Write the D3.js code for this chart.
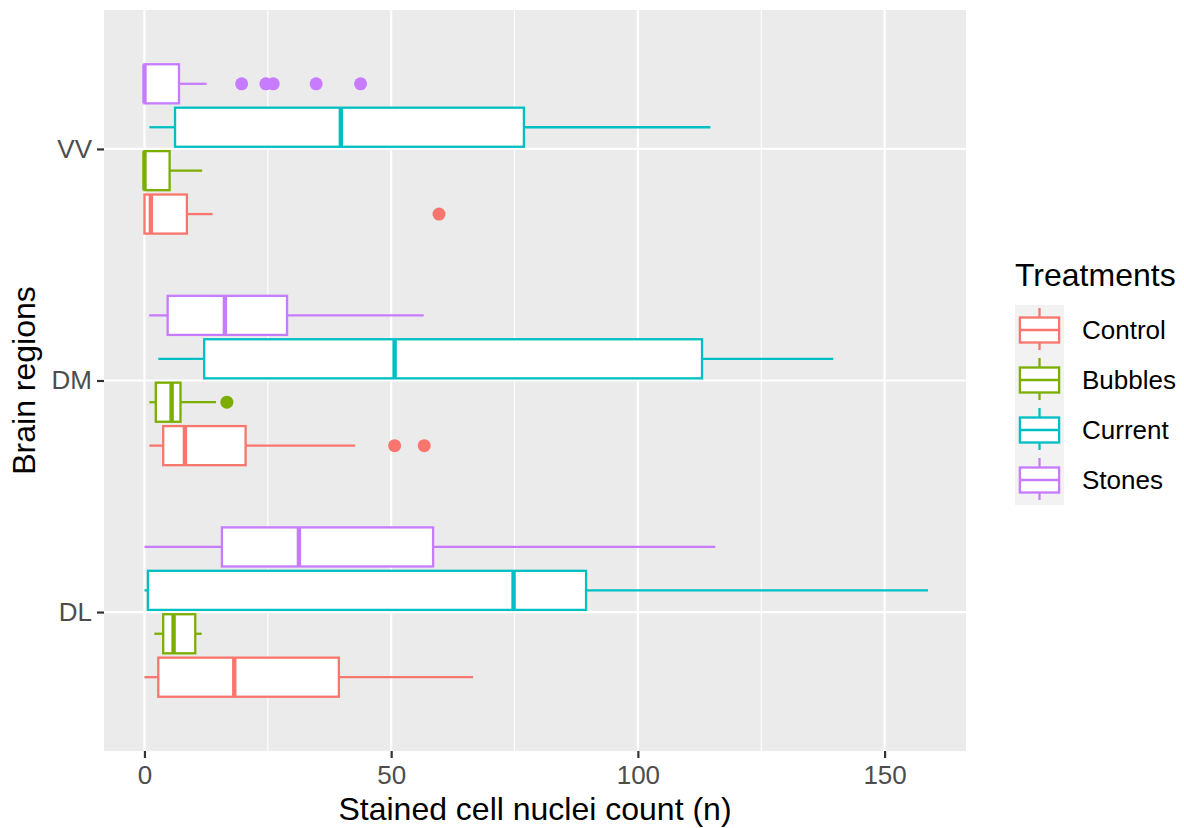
<!DOCTYPE html>
<html>
<head>
<meta charset="utf-8">
<script src="https://cdn.jsdelivr.net/npm/d3@7"></script>
<style>
  body { margin: 0; background: #fff; }
  svg { font-family: "Liberation Sans", Arial, sans-serif; }
</style>
</head>
<body>
<svg id="chart" width="1184" height="828"></svg>
<script>
var regions = ["DL", "DM", "VV"];
var treatments = ["Control", "Bubbles", "Current", "Stones"];
var colors = ["#F8766D", "#7CAE00", "#00BFC4", "#C77CFF"];
var xTicks = [0, 50, 100, 150];
var xMinor = [25, 75, 125];

// one row per region (DL, DM, VV), values in treatment order
var whiskerLow  = [[0, 2.0, 0, 0], [1.0, 1.0, 2.8, 0.95], [0, 0, 1.0, 0]];
var q1          = [[2.8, 3.8, 0.7, 15.7], [3.8, 2.3, 12.1, 4.7], [0, 0, 6.2, 0]];
var median      = [[18.2, 5.9, 74.8, 31.3], [8.2, 5.5, 50.7, 16.3], [1.3, 0, 39.8, 0]];
var q3          = [[39.4, 10.3, 89.5, 58.5], [20.5, 7.3, 113.0, 28.9], [8.6, 5.1, 76.9, 7.0]];
var whiskerHigh = [[66.6, 11.6, 158.8, 115.7], [42.7, 14.5, 139.6, 56.6], [13.8, 11.7, 114.7, 12.6]];

var outlierRegion    = ["DM", "DM", "DM", "VV", "VV", "VV", "VV", "VV", "VV"];
var outlierTreatment = ["Control", "Control", "Bubbles", "Control", "Stones", "Stones", "Stones", "Stones", "Stones"];
var outlierValue     = [50.7, 56.7, 16.7, 59.7, 19.7, 24.6, 26.1, 34.8, 43.8];

var panel = {left: 104, right: 966, top: 10, bottom: 751};
var svg = d3.select("#chart");

var x = d3.scaleLinear().domain([-8.2, 166.5]).range([panel.left, panel.right]);
var y = d3.scaleLinear().domain([0.4, 3.6]).range([panel.bottom, panel.top]);
var color = d3.scaleOrdinal().domain(treatments).range(colors);

var slot = 0.75 / treatments.length;
function boxCenter(r, t) {
    return regions.indexOf(r) + 1 + (treatments.indexOf(t) - 1.5) * slot;
}
var halfBox = (y(0) - y(slot * 0.9)) / 2;
var lw = 2.3;

// panel background and grid
svg.append("rect")
    .attr("x", panel.left).attr("y", panel.top)
    .attr("width", panel.right - panel.left).attr("height", panel.bottom - panel.top)
    .attr("fill", "#EBEBEB");

svg.selectAll(".minor").data(xMinor).enter().append("line")
    .attr("x1", function(d) { return x(d); }).attr("x2", function(d) { return x(d); })
    .attr("y1", panel.top).attr("y2", panel.bottom)
    .attr("stroke", "#fff").attr("stroke-width", 1.1);

svg.selectAll(".majorx").data(xTicks).enter().append("line")
    .attr("x1", function(d) { return x(d); }).attr("x2", function(d) { return x(d); })
    .attr("y1", panel.top).attr("y2", panel.bottom)
    .attr("stroke", "#fff").attr("stroke-width", 2.2);

svg.selectAll(".majory").data(regions).enter().append("line")
    .attr("x1", panel.left).attr("x2", panel.right)
    .attr("y1", function(d, i) { return y(i + 1); }).attr("y2", function(d, i) { return y(i + 1); })
    .attr("stroke", "#fff").attr("stroke-width", 2.2);

// boxes
var boxes = [];
regions.forEach(function(r, i) {
    treatments.forEach(function(t, j) {
        boxes.push({region: r, treatment: t, lo: whiskerLow[i][j], q1: q1[i][j],
            med: median[i][j], q3: q3[i][j], hi: whiskerHigh[i][j]});
    });
});

var g = svg.append("g");
var box = g.selectAll(".box").data(boxes).enter().append("g");

box.append("line")
    .attr("x1", function(d) { return x(d.lo); }).attr("x2", function(d) { return x(d.q1); })
    .attr("y1", function(d) { return y(boxCenter(d.region, d.treatment)); })
    .attr("y2", function(d) { return y(boxCenter(d.region, d.treatment)); })
    .attr("stroke", function(d) { return color(d.treatment); }).attr("stroke-width", lw);

box.append("line")
    .attr("x1", function(d) { return x(d.q3); }).attr("x2", function(d) { return x(d.hi); })
    .attr("y1", function(d) { return y(boxCenter(d.region, d.treatment)); })
    .attr("y2", function(d) { return y(boxCenter(d.region, d.treatment)); })
    .attr("stroke", function(d) { return color(d.treatment); }).attr("stroke-width", lw);

box.append("rect")
    .attr("x", function(d) { return x(d.q1); })
    .attr("width", function(d) { return x(d.q3) - x(d.q1); })
    .attr("y", function(d) { return y(boxCenter(d.region, d.treatment)) - halfBox; })
    .attr("height", halfBox * 2)
    .attr("fill", "#fff")
    .attr("stroke", function(d) { return color(d.treatment); }).attr("stroke-width", lw);

box.append("line")
    .attr("x1", function(d) { return x(d.med); }).attr("x2", function(d) { return x(d.med); })
    .attr("y1", function(d) { return y(boxCenter(d.region, d.treatment)) - halfBox; })
    .attr("y2", function(d) { return y(boxCenter(d.region, d.treatment)) + halfBox; })
    .attr("stroke", function(d) { return color(d.treatment); }).attr("stroke-width", 4.4);

g.selectAll(".outlier").data(outlierValue).enter().append("circle")
    .attr("cx", function(d) { return x(d); })
    .attr("cy", function(d, i) { return y(boxCenter(outlierRegion[i], outlierTreatment[i])); })
    .attr("r", 6.5)
    .attr("fill", function(d, i) { return color(outlierTreatment[i]); });

// axes
var xAxis = svg.append("g")
    .attr("transform", "translate(0," + panel.bottom + ")")
    .call(d3.axisBottom(x).tickValues(xTicks).tickSize(7).tickPadding(8));
xAxis.select(".domain").remove();
xAxis.selectAll("line").attr("stroke", "#333").attr("stroke-width", 2.2);
xAxis.selectAll("text").attr("fill", "#4D4D4D").style("font-size", "26px")
    .attr("font-family", "Liberation Sans, Arial, sans-serif");

var yAxis = svg.append("g")
    .attr("transform", "translate(" + panel.left + ",0)")
    .call(d3.axisLeft(y).tickValues([1, 2, 3]).tickFormat(function(d) { return regions[d - 1]; })
        .tickSize(7).tickPadding(5));
yAxis.select(".domain").remove();
yAxis.selectAll("line").attr("stroke", "#333").attr("stroke-width", 2.2);
yAxis.selectAll("text").attr("fill", "#4D4D4D").style("font-size", "26px")
    .attr("font-family", "Liberation Sans, Arial, sans-serif");

svg.append("text")
    .attr("x", (panel.left + panel.right) / 2).attr("y", 820)
    .attr("text-anchor", "middle")
    .style("font-size", "32px").attr("fill", "#000")
    .text("Stained cell nuclei count (n)");

svg.append("text")
    .attr("transform", "translate(35," + ((panel.top + panel.bottom) / 2) + ") rotate(-90)")
    .attr("text-anchor", "middle")
    .style("font-size", "32px").attr("fill", "#000")
    .text("Brain regions");

// legend
var legend = svg.append("g").attr("transform", "translate(1015,305)");
legend.append("text")
    .attr("x", 0).attr("y", -19)
    .style("font-size", "32px").attr("fill", "#000")
    .text("Treatments");

var keyW = 49, keyH = 50;
var key = legend.selectAll(".key").data(treatments).enter().append("g")
    .attr("transform", function(d, i) { return "translate(0," + (i * keyH) + ")"; });

key.append("rect").attr("width", keyW).attr("height", keyH).attr("fill", "#F2F2F2");
key.append("line")
    .attr("x1", keyW / 2).attr("x2", keyW / 2).attr("y1", keyH * 0.06).attr("y2", keyH * 0.9)
    .attr("stroke", function(d) { return color(d); }).attr("stroke-width", lw);
key.append("rect")
    .attr("x", keyW * 0.1).attr("width", keyW * 0.8)
    .attr("y", keyH * 0.25).attr("height", keyH * 0.5)
    .attr("fill", "#fff")
    .attr("stroke", function(d) { return color(d); }).attr("stroke-width", lw);
key.append("line")
    .attr("x1", keyW * 0.1).attr("x2", keyW * 0.9).attr("y1", keyH / 2).attr("y2", keyH / 2)
    .attr("stroke", function(d) { return color(d); }).attr("stroke-width", lw);
key.append("text")
    .attr("x", 67).attr("y", keyH / 2).attr("dy", "0.35em")
    .style("font-size", "26px").attr("fill", "#000")
    .text(function(d) { return d; });
</script>
</body>
</html>
